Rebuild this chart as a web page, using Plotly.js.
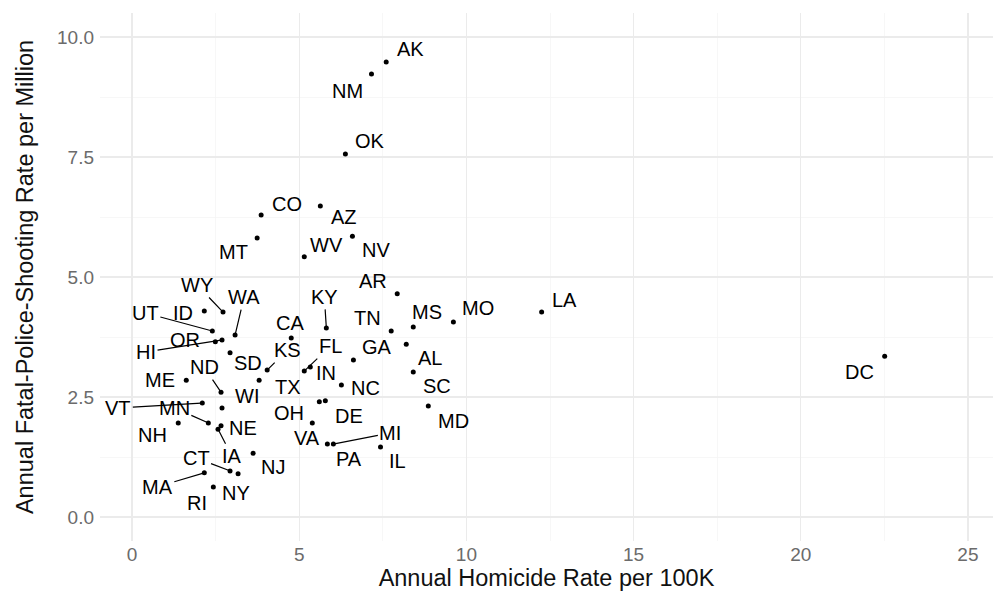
<!DOCTYPE html>
<html>
<head>
<meta charset="utf-8">
<script src="https://cdn.plot.ly/plotly-3.0.1.min.js"></script>
<style>html,body{margin:0;padding:0;background:#fff;}#chart{width:999px;height:592px;}</style>
</head>
<body>
<div id="chart"></div>
<script>
// ---- data ----
const states   = ["AK","NM","OK","CO","AZ","MT","WV","NV","AR","KY","MS","MO","LA","DC","TN","GA","AL","SC","MD","CA","KS","SD","WY","WA","UT","ID","OR","HI","ME","ND","TX","WI","VT","MN","NH","NE","IA","NJ","CT","NY","MA","RI","FL","IN","NC","OH","DE","VA","PA","MI","IL"];
const homicideRate = [7.60,7.16,6.38,3.86,5.63,3.74,5.15,6.59,7.93,5.81,8.41,9.61,12.25,22.51,7.75,6.62,8.20,8.41,8.86,4.76,4.04,2.93,2.72,3.08,2.40,2.16,2.49,2.69,1.62,2.66,3.80,2.69,2.10,2.28,1.38,2.66,2.57,3.62,2.93,3.17,2.16,2.43,5.15,5.33,6.26,5.60,5.78,5.39,5.84,6.02,7.43];
const shootingRate = [9.48,9.23,7.56,6.29,6.48,5.81,5.42,5.85,4.65,3.94,3.96,4.06,4.27,3.35,3.875,3.27,3.60,3.02,2.31,3.73,3.06,3.42,4.27,3.79,3.875,4.29,3.65,3.69,2.85,2.60,2.85,2.27,2.375,1.96,1.96,1.90,1.83,1.33,0.96,0.90,0.92,0.625,3.04,3.125,2.75,2.40,2.42,1.96,1.52,1.52,1.46];
const xTicks = [0,5,10,15,20,25];
const yTicks = [0,2.5,5,7.5,10];

// ---- label placement (pixel offsets of label centre from its point; seg = leader line) ----
const labelPlacement = {
  AK:[24,-13,0], NM:[-24,17,0], OK:[25,-13,0], CO:[26,-11,0], AZ:[24,11,0], MT:[-24,14,0],
  WV:[22,-12,0], NV:[24,14,0], AR:[-24,-13,0], KY:[-2,-31,1], MS:[14,-15,0], MO:[25,-14,0],
  LA:[23,-12,0], DC:[-25,16,0], TN:[-24,-13,0], GA:[24,-13,0], AL:[24,14,0], SC:[24,14,0],
  MD:[25,15,0], CA:[-1,-15,0], KS:[20,-20,1], SD:[18,10,0], WY:[-26,-27,1], WA:[9,-38,1],
  UT:[-67,-18,1], ID:[-21,2,0], OR:[-30,-2,0], HI:[-76,12,1], ME:[-26,0,0], ND:[-17,-25,1],
  TX:[29,7,0], WI:[25,-12,0], VT:[-84,5,1], MN:[-34,-15,1], NH:[-26,12,0], NE:[22,2,0],
  IA:[14,27,1], NJ:[20,14,0], CT:[-34,-13,1], NY:[-2,19,0], MA:[-47,14,1], RI:[-16,16,0],
  FL:[26,-25,1], IN:[16,6,0], NC:[24,3,0], OH:[-30,11,0], DE:[24,15,0], VA:[-5,15,0],
  PA:[22,15,0], MI:[57,-11,1], IL:[17,14,0]
};

const FONT = "Liberation Sans, Arial, Helvetica, sans-serif";

const annotations = states.map((s, i) => {
  const p = labelPlacement[s] || [15, -12, 0];
  const base = {
    x: homicideRate[i], y: shootingRate[i], xref: "x", yref: "y", text: s,
    font: {family: FONT, size: 20, color: "#000"},
    xanchor: "center", yanchor: "middle"
  };
  if (p[2]) {
    return Object.assign(base, {
      showarrow: true, ax: p[0], ay: p[1], axref: "pixel", ayref: "pixel",
      arrowhead: 0, arrowwidth: 1.2, arrowcolor: "#000", standoff: 1, startstandoff: 0
    });
  }
  return Object.assign(base, {showarrow: false, xshift: p[0], yshift: -p[1]});
});

const trace = {
  type: "scatter", mode: "markers",
  x: homicideRate, y: shootingRate, text: states,
  marker: {color: "#000", size: 5},
  hoverinfo: "text+x+y"
};

const layout = {
  width: 999, height: 592,
  margin: {l: 100, r: 6, t: 13, b: 51},
  paper_bgcolor: "#fff", plot_bgcolor: "#fff",
  showlegend: false,
  font: {family: FONT},
  xaxis: {
    range: [-0.96, 25.75], tickvals: xTicks, ticktext: xTicks.map(String),
    showgrid: true, gridcolor: "#ebebeb", gridwidth: 1.3,
    minor: {dtick: 2.5, tick0: 0, showgrid: true, gridcolor: "#f3f3f3", gridwidth: 0.7},
    zeroline: false, showline: false, ticks: "",
    tickfont: {family: FONT, size: 19, color: "#6b6b6b"},
    title: {text: "Annual Homicide Rate per 100K", font: {family: FONT, size: 23.5, color: "#111"}, standoff: 5},
    automargin: false
  },
  yaxis: {
    range: [-0.5, 10.5], tickvals: yTicks, ticktext: yTicks.map(v => v.toFixed(1)),
    showgrid: true, gridcolor: "#ebebeb", gridwidth: 1.3,
    minor: {dtick: 1.25, tick0: 0, showgrid: true, gridcolor: "#f3f3f3", gridwidth: 0.7},
    zeroline: false, showline: false, ticks: "",
    tickfont: {family: FONT, size: 19, color: "#6b6b6b"},
    ticklabelstandoff: 5,
    title: {text: "Annual Fatal-Police-Shooting Rate per Million", font: {family: FONT, size: 23.5, color: "#111"}, standoff: 16},
    automargin: false
  },
  annotations: annotations
};

Plotly.newPlot("chart", [trace], layout, {displayModeBar: false, staticPlot: true});
</script>
</body>
</html>
